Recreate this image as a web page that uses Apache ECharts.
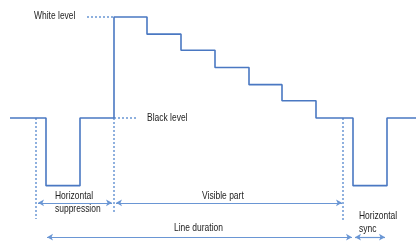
<!DOCTYPE html>
<html>
<head>
<meta charset="utf-8">
<script src="https://cdn.jsdelivr.net/npm/echarts@6/dist/echarts.min.js"></script>
<style>
html,body{margin:0;padding:0;background:#fff;}
#chart{width:416px;height:248px;}
</style>
</head>
<body>
<div id="chart"></div>
<script>
// Signal: times where each level segment starts (last entry = end of trace), level in IRE-like units
const edgeTimes = [10, 46, 80, 114, 147, 181, 215, 249, 282, 316, 353, 387, 416];
const levels    = [0, -67, 0, 100, 83, 67, 50, 33, 17, 0, -67, 0, 0];

// Dotted vertical guides: x, from level, to level
const guideX    = [36, 46, 114, 343, 353, 386];
const guideFrom = [0, 0, 0, 0, -67, -67];
const guideTo   = [-100, -129, -94, -102, -129, -129];

// Dotted horizontal level references
const refNames = ['White level', 'Black level'];
const refLevel = [100, 0];
const refFrom  = [87, 114];
const refTo    = [114, 138];

// Dimension arrows
const spanNames = ['Horizontal suppression', 'Visible part', 'Line duration', 'Horizontal sync'];
const spanFrom  = [38, 116, 47, 355];
const spanTo    = [112, 342, 352, 385];
const spanLevel = [-84, -84, -118, -118];

const blue = '#4a78c2';
const light = '#6a96d4';

const chart = echarts.init(document.getElementById('chart'), null, {renderer: 'canvas'});

const signalData = edgeTimes.map((t, i) => [t, levels[i]]);

const guideLines = guideX.map((x, i) => [{coord: [x, guideFrom[i]]}, {coord: [x, guideTo[i]]}]);
const refLines = refLevel.map((lv, i) => [{coord: [refFrom[i], lv]}, {coord: [refTo[i], lv]}]);
const arrowLines = spanFrom.map((f, i) => [{coord: [f, spanLevel[i]]}, {coord: [spanTo[i], spanLevel[i]]}]);

const font = '"Liberation Sans", Arial, sans-serif';
const txt = (text, x, y) => ({
  type: 'text', x: x, y: y, scaleX: 0.77, silent: true,
  style: {text: text, fill: '#222', font: '11px ' + font, verticalAlign: 'middle', lineHeight: 13}
});

chart.setOption({
  animation: false,
  grid: {left: 0, right: 0, top: 0, bottom: 0},
  xAxis: {type: 'value', min: 0, max: 416, show: false},
  yAxis: {type: 'value', min: -128.7, max: 116.8, show: false},
  series: [
    {
      type: 'line',
      step: 'end',
      data: signalData,
      symbol: 'none',
      clip: false,
      lineStyle: {color: blue, width: 1.6},
      z: 5
    },
    {
      type: 'line',
      data: [],
      symbol: 'none',
      clip: false,
      markLine: {
        silent: true,
        symbol: ['none', 'none'],
        label: {show: false},
        lineStyle: {color: light, type: [2, 2], width: 1.5},
        data: guideLines.concat(refLines)
      }
    },
    {
      type: 'line',
      data: [],
      symbol: 'none',
      clip: false,
      markLine: {
        silent: true,
        symbol: ['arrow', 'arrow'],
        symbolSize: [5, 6],
        label: {show: false},
        lineStyle: {color: light, type: 'solid', width: 1.2},
        data: arrowLines
      }
    }
  ],
  graphic: [
    txt('White level', 34, 16),
    txt('Black level', 147, 118),
    txt('Horizontal\nsuppression', 55, 202),
    txt('Visible part', 202, 196),
    txt('Line duration', 174, 228),
    txt('Horizontal\nsync', 359, 222)
  ]
});
</script>
</body>
</html>
